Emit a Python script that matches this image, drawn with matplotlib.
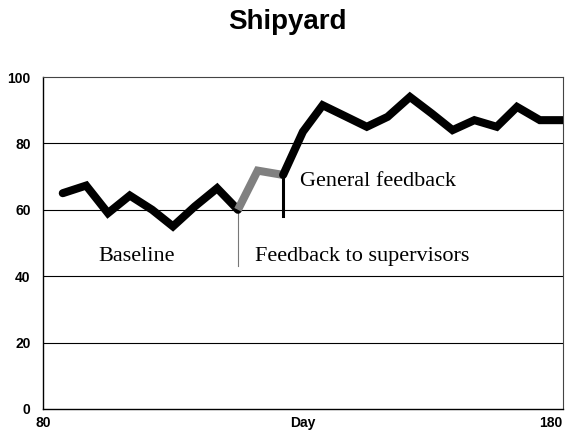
import matplotlib.pyplot as plt

plt.rc('font', family='Liberation Sans')

# baseline phase
base_day = [83.8, 88.3, 92.5, 96.7, 101, 105, 109.2, 113.5, 117.5]
base_val = [65, 67.3, 59, 64.3, 60, 55, 61, 66.5, 60]
# feedback to supervisors phase
sup_day = [117.5, 121.3, 126.2]
sup_val = [60, 71.8, 70.5]
# general feedback phase
gen_day = [126.2, 130, 133.8, 138, 142.3, 146.3, 150.6, 154.8, 158.8,
           163, 167.3, 171.2, 175.6, 180]
gen_val = [70.5, 83.5, 91.5, 88.3, 85, 88, 94, 89, 84, 87, 85, 91, 87, 87]

yticks = [0, 20, 40, 60, 80, 100]
xticks = [80, 130, 180]
xlabels = ['80', 'Day', '180']

fig = plt.figure(figsize=(5.69, 4.40), dpi=100)
ax = fig.add_axes([0.0756, 0.0705, 0.9134, 0.7545])

for y in [20, 40, 60, 80]:
    ax.axhline(y, color='black', lw=0.8, zorder=1)

# phase change lines
ax.plot([117.5, 117.5], [60, 43], color='#777777', lw=0.8, zorder=2)
ax.plot([126.2, 126.2], [70.5, 58], color='black', lw=2.2, zorder=2)

ax.plot(base_day, base_val, color='black', lw=5.8,
        solid_capstyle='round', solid_joinstyle='miter', zorder=3)
ax.plot(sup_day, sup_val, color='#808080', lw=5.8,
        solid_capstyle='butt', solid_joinstyle='miter', zorder=3)
ax.plot(gen_day, gen_val, color='black', lw=5.8,
        solid_capstyle='round', solid_joinstyle='miter', zorder=3)

serif = dict(family='Liberation Serif', fontsize=16, va='center')
ax.text(98.1, 46, 'Baseline', ha='center', **serif)
ax.text(120.8, 46, 'Feedback to supervisors', ha='left', **serif)
ax.text(129.4, 68.4, 'General feedback', ha='left', **serif)

ax.set_xlim(80, 180)
ax.set_ylim(0, 100)
ax.set_yticks(yticks)
ax.set_yticklabels([str(v) for v in yticks], fontweight='bold', fontsize=10)
ax.set_xticks(xticks)
ax.set_xticklabels(xlabels, fontweight='bold', fontsize=10)
ax.get_xticklabels()[2].set_ha('right')
ax.tick_params(length=0)
ax.tick_params(axis='y', pad=9)
ax.tick_params(axis='x', pad=5)
for s in ['left', 'bottom']:
    ax.spines[s].set_linewidth(1.0)
for s in ['top', 'right']:
    ax.spines[s].set_linewidth(0.8)
    ax.spines[s].set_color('#444444')

fig.text(0.505, 0.95, 'Shipyard', ha='center', va='center',
         fontsize=20, fontweight='bold')

fig.savefig('out.png', dpi=100)
